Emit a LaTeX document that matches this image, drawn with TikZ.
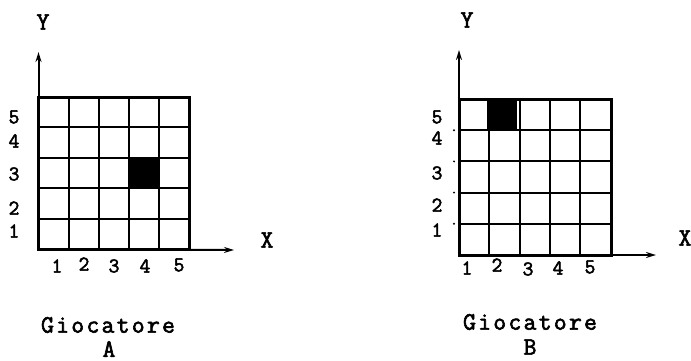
\documentclass[tikz,border=0pt]{standalone}
\usepackage{fontspec}
\newfontfamily\tw[FakeBold=2.4]{Latin Modern Mono}
\newfontfamily\twcap[FakeBold=2.4,LetterSpace=9]{Latin Modern Mono}
\usetikzlibrary{arrows.meta}
\tikzset{
  gline/.style={line width=2pt},
  frame/.style={line width=3pt},
  axis/.style={line width=2pt,-{Stealth[length=10pt,width=6pt]}},
  axlbl/.style={font=\tw\fontsize{25}{25}\selectfont,inner sep=0pt},
  num/.style={font=\tw\fontsize{21}{21}\selectfont,inner sep=0pt},
  captxt/.style={font=\twcap\fontsize{25}{25}\selectfont,inner sep=0pt},
  tickdot/.style={circle,fill=black,inner sep=0pt,minimum size=2.2pt}
}
\begin{document}
\begin{tikzpicture}[x=1pt,y=-1pt]
\useasboundingbox (0,0) rectangle (691,361);
% ---------- Player A ----------
\coordinate (Ao) at (38.5,249);
\coordinate (Ay) at (38.5,52);
\coordinate (Ax) at (234,250);
\fill[black] (129,158) rectangle (160,188);
\foreach \i in {1,...,4} {
  \draw[gline] ({38.5+30.1*\i},97) -- ({38.5+30.1*\i},249);
  \draw[gline] (38.5,{97+30.4*\i}) -- (189,{97+30.4*\i});
}
\draw[frame] (38.5,97) rectangle (189,249);
\draw[axis] (Ao) -- (Ay);
\draw[axis] (Ao) -- (Ax);
\node[axlbl] (AY) at (43,22) {Y};
\node[axlbl] (AX) at (267,240) {X};
\node[num] (Ay5) at (14,117) {5};
\node[num] (Ay4) at (14,141) {4};
\node[num] (Ay3) at (14,174) {3};
\node[num] (Ay2) at (14,208) {2};
\node[num] (Ay1) at (14,231) {1};
\node[num] (Ax1) at (57,266) {1};
\node[num] (Ax2) at (84,264) {2};
\node[num] (Ax3) at (114,266) {3};
\node[num] (Ax4) at (145,266) {4};
\node[num] (Ax5) at (179,265) {5};
\node[captxt] (Acap) at (108,325) {Giocatore};
\node[captxt] (Aname) at (109,349) {A};
% ---------- Player B ----------
\coordinate (Bo) at (459,255);
\coordinate (By) at (459,50);
\coordinate (Bx) at (656,255);
\fill[black] (487,99) rectangle (517,130);
\foreach \i in {1,...,4} {
  \draw[gline] ({459+30.3*\i},99) -- ({459+30.3*\i},255);
  \draw[gline] (459,{99+31.2*\i}) -- (611,{99+31.2*\i});
  \node[tickdot] at (454,{99+31.2*\i}) {};
}
\draw[frame] (459,99) rectangle (611,255);
\draw[axis] (Bo) -- (By);
\draw[axis] (Bo) -- (Bx);
\node[axlbl] (BY) at (467,20) {Y};
\node[axlbl] (BX) at (685,238) {X};
\node[num] (By5) at (437,117) {5};
\node[num] (By4) at (437,138) {4};
\node[num] (By3) at (437,173) {3};
\node[num] (By2) at (437,205) {2};
\node[num] (By1) at (437,230) {1};
\node[num] (Bx1) at (467,268) {1};
\node[num] (Bx2) at (497,265) {2};
\node[num] (Bx3) at (528,269) {3};
\node[num] (Bx4) at (558,268) {4};
\node[num] (Bx5) at (590,267) {5};
\node[captxt] (Bcap) at (530,322) {Giocatore};
\node[captxt] (Bname) at (530,347) {B};
\end{tikzpicture}
\end{document}
